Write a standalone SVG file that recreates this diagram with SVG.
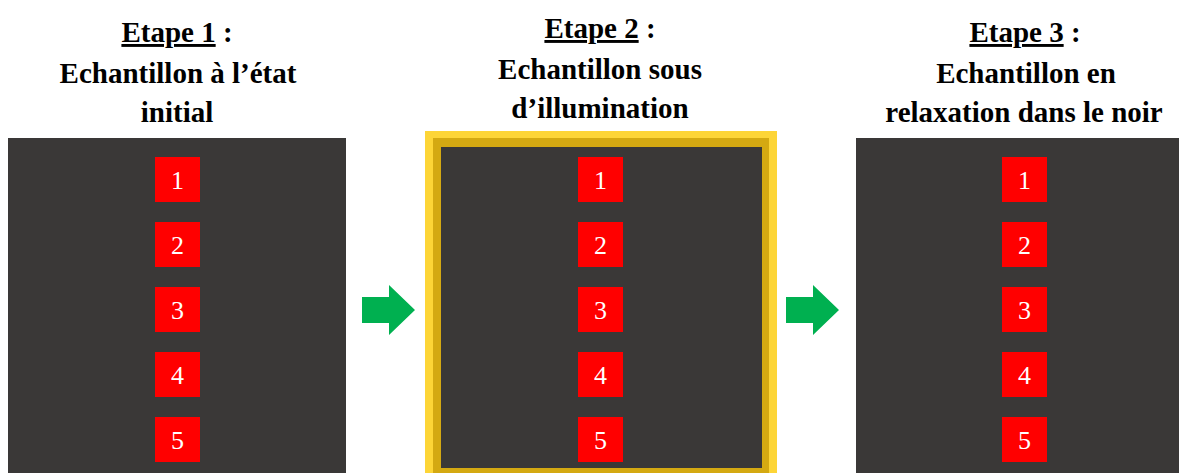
<svg xmlns="http://www.w3.org/2000/svg" width="1179" height="473" viewBox="0 0 1179 473">
<style>
.title{font-family:"Liberation Serif","DejaVu Serif",serif;font-weight:700;font-size:29px;fill:#000;text-anchor:middle}
.u{text-decoration:underline}
.panel{fill:#3A3837}
.sq{fill:#FF0000}
.num{font-family:"Liberation Serif","DejaVu Serif",serif;font-size:26px;fill:#FFFFFF;text-anchor:middle}
.arrow{fill:#00B050}
</style>
<rect width="1179" height="473" fill="#FFFFFF"/>
<g id="step1">
<text class="title" x="177" y="42"><tspan class="u">Etape 1</tspan> :</text>
<text class="title" x="178" y="83">Echantillon à l’état</text>
<text class="title" x="177" y="122">initial</text>
<rect class="panel" x="8" y="138" width="338" height="340"/>
<rect class="sq" x="155" y="157" width="45" height="45"/><text class="num" x="177.5" y="189">1</text>
<rect class="sq" x="155" y="222" width="45" height="45"/><text class="num" x="177.5" y="254">2</text>
<rect class="sq" x="155" y="287" width="45" height="45"/><text class="num" x="177.5" y="319">3</text>
<rect class="sq" x="155" y="352" width="45" height="45"/><text class="num" x="177.5" y="384">4</text>
<rect class="sq" x="155" y="417" width="45" height="45"/><text class="num" x="177.5" y="449">5</text>
</g>
<g id="step2">
<text class="title" x="600" y="38"><tspan class="u">Etape 2</tspan> :</text>
<text class="title" x="600" y="79">Echantillon sous</text>
<text class="title" x="600" y="118">d’illumination</text>
<rect x="425" y="131" width="352" height="350" fill="#FDD537"/>
<rect x="433" y="138" width="336" height="340" fill="#D4A912"/>
<rect class="panel" x="441" y="147" width="321" height="321"/>
<rect class="sq" x="578" y="157" width="45" height="45"/><text class="num" x="600.5" y="189">1</text>
<rect class="sq" x="578" y="222" width="45" height="45"/><text class="num" x="600.5" y="254">2</text>
<rect class="sq" x="578" y="287" width="45" height="45"/><text class="num" x="600.5" y="319">3</text>
<rect class="sq" x="578" y="352" width="45" height="45"/><text class="num" x="600.5" y="384">4</text>
<rect class="sq" x="578" y="417" width="45" height="45"/><text class="num" x="600.5" y="449">5</text>
</g>
<g id="step3">
<text class="title" x="1025" y="42"><tspan class="u">Etape 3</tspan> :</text>
<text class="title" x="1026" y="83">Echantillon en</text>
<text class="title" x="1024" y="122">relaxation dans le noir</text>
<rect class="panel" x="856" y="138" width="338" height="340"/>
<rect class="sq" x="1002" y="157" width="45" height="45"/><text class="num" x="1024.5" y="189">1</text>
<rect class="sq" x="1002" y="222" width="45" height="45"/><text class="num" x="1024.5" y="254">2</text>
<rect class="sq" x="1002" y="287" width="45" height="45"/><text class="num" x="1024.5" y="319">3</text>
<rect class="sq" x="1002" y="352" width="45" height="45"/><text class="num" x="1024.5" y="384">4</text>
<rect class="sq" x="1002" y="417" width="45" height="45"/><text class="num" x="1024.5" y="449">5</text>
</g>
<g id="connectors">
<polygon class="arrow" points="362,297 389,297 389,285 415,310 389,335 389,323 362,323"/>
<polygon class="arrow" points="786,297 813,297 813,285 839,310 813,335 813,323 786,323"/>
</g>
</svg>
